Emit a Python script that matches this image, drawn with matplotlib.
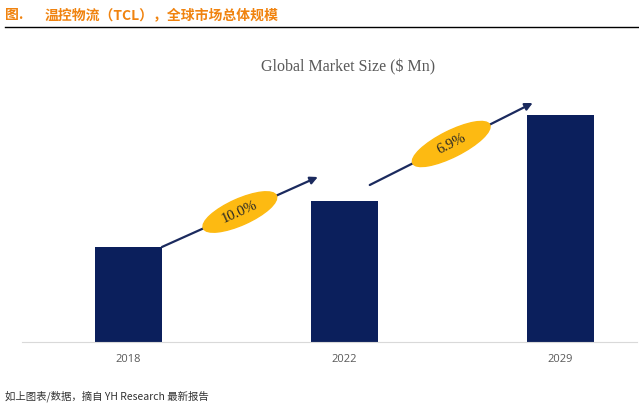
import matplotlib
matplotlib.use("Agg")
import matplotlib.pyplot as plt
from matplotlib.patches import Ellipse
from matplotlib.transforms import ScaledTranslation
from matplotlib.lines import Line2D
import numpy as np

# データ（相対値、画像から読み取り）
years = ["2018", "2022", "2029"]
market_size = [95, 141, 227]
cagr_labels = ["10.0%", "6.9%"]

BAR_COLOR = "#0B1F5C"
ARROW_COLOR = "#1B2A5E"
OVAL_COLOR = "#FDBA12"
ORANGE = "#F0830F"

plt.rcParams["font.family"] = ["Noto Sans CJK SC", "DejaVu Sans"]

fig = plt.figure(figsize=(6.39, 4.07), dpi=100)
W, H = 639, 407

# タイトル（ページ見出し）
fig.text(5 / W, 1 - 15 / H, "图.", color=ORANGE, fontsize=10, fontweight="bold", va="center")
fig.text(45 / W, 1 - 15 / H, "温控物流（TCL），全球市场总体规模", color=ORANGE,
         fontsize=10, fontweight="bold", va="center")
fig.add_artist(Line2D([5 / W, 1], [1 - 27 / H, 1 - 27 / H], color="black", lw=1))

# 脚注
fig.text(5 / W, 1 - 396 / H, "如上图表/数据，摘自 YH Research 最新报告", color="#333333",
         fontsize=7.5, va="center")

# グラフ本体
ax = fig.add_axes([22 / W, (H - 342) / H, 615 / W, 262 / H])
x = np.arange(len(years))
bar_w = 0.31
ax.bar(x, market_size, width=bar_w, color=BAR_COLOR)
ax.set_xlim(-0.493, 2.356)
ax.set_ylim(0, max(market_size) * 262 / 227)

for s in ["top", "left", "right"]:
    ax.spines[s].set_visible(False)
ax.spines["bottom"].set_color("#D9D9D9")
ax.set_yticks([])
ax.set_xticks(x)
ax.set_xticklabels(years, color="#595959", fontsize=8, family=["Open Sans", "DejaVu Sans"])
ax.tick_params(axis="x", length=0, pad=9)

fig.text(348 / W, 1 - 67 / H, "Global Market Size ($ Mn)", color="#595959",
         fontsize=11.5, family="Liberation Serif", ha="center", va="center")

# 成長率の矢印と楕円
px = max(market_size) / 227  # 1ピクセルあたりの値
dx = 1 / 216
offsets = [((0, 0), (7, 24)), ((-8, 16), (6, 12))]
fig.canvas.draw()
for i, label in enumerate(cagr_labels):
    (sx, sy), (ex, ey) = offsets[i]
    start = (x[i] + bar_w / 2 + sx * dx, market_size[i] + sy * px)
    end = (x[i + 1] - bar_w / 2 + ex * dx, market_size[i + 1] + ey * px)
    ax.annotate("", xy=end, xytext=start,
                arrowprops=dict(arrowstyle="-|>", color=ARROW_COLOR, lw=1.6,
                                mutation_scale=11, shrinkA=0, shrinkB=0))
    p0 = ax.transData.transform(start)
    p1 = ax.transData.transform(end)
    ang = np.degrees(np.arctan2(p1[1] - p0[1], p1[0] - p0[0]))
    mid = ((start[0] + end[0]) / 2, (start[1] + end[1]) / 2)
    tr = fig.dpi_scale_trans + ScaledTranslation(mid[0], mid[1], ax.transData)
    ew = 0.80 if i == 0 else 0.86
    ell = Ellipse((0, 0), ew, 0.26, angle=ang, transform=tr, color=OVAL_COLOR, zorder=3)
    ax.add_patch(ell)
    ax.text(mid[0], mid[1], label, rotation=ang, rotation_mode="anchor",
            ha="center", va="center", fontsize=10.5, family="Liberation Serif",
            color="#262626", zorder=4)

fig.savefig("out.png", dpi=100)
